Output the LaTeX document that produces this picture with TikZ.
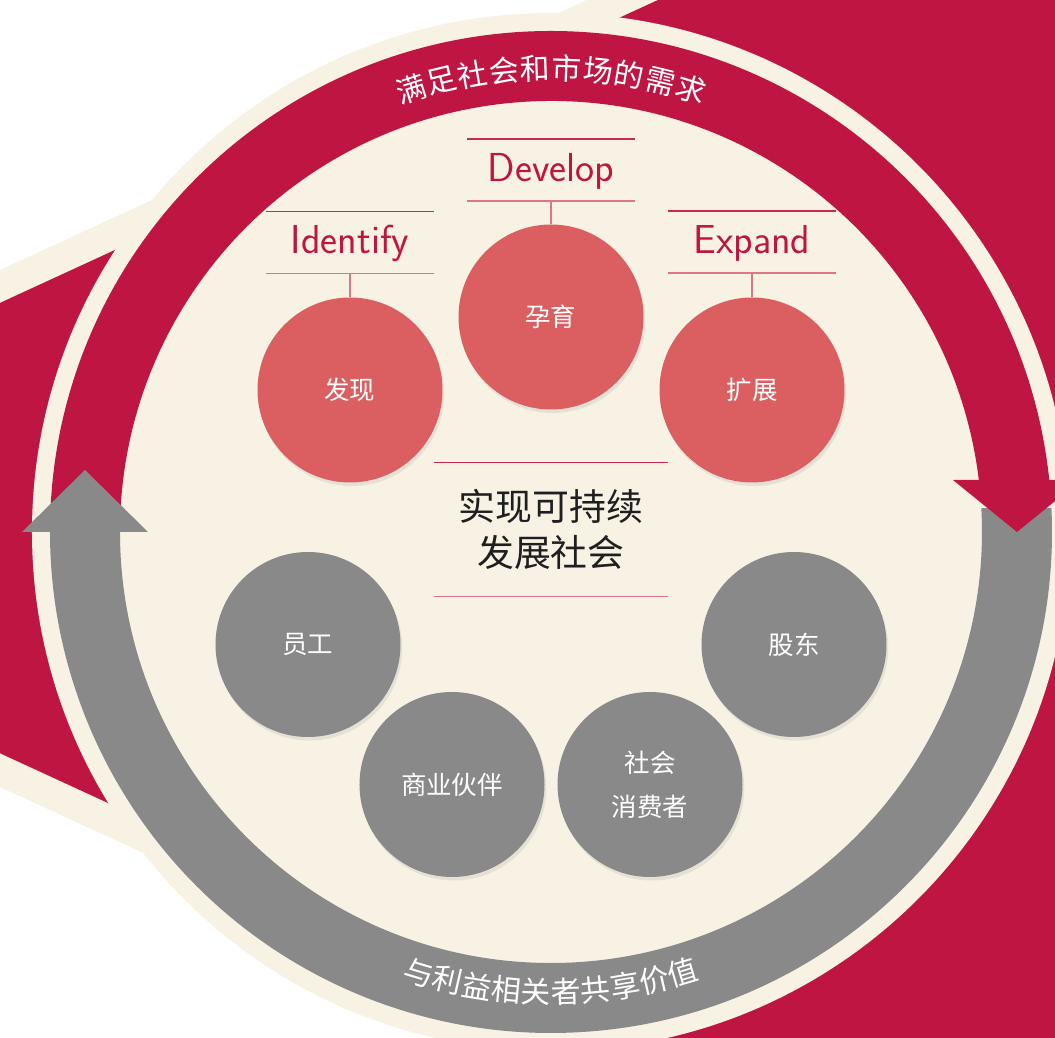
\documentclass[tikz,border=0pt]{standalone}
\usepackage{fontspec}
\newfontfamily\cjk{Noto Sans CJK SC}
\usetikzlibrary{shadows}
\definecolor{crimson}{HTML}{BF1542}
\definecolor{cream}{HTML}{F8F2E4}
\definecolor{ashgray}{HTML}{898989}
\definecolor{rose}{HTML}{DB5F60}
\definecolor{ruletop}{HTML}{C92A4C}
\definecolor{rulebot}{HTML}{DE7585}
\tikzset{
  redball/.style={circle, fill=rose, minimum size=3.7cm, inner sep=0, align=center,
    text=white, font=\cjk\fontsize{14.5}{25}\selectfont,
    drop shadow={shadow xshift=1pt, shadow yshift=-2pt, opacity=.15}},
  grayball/.style={redball, fill=ashgray},
  stage/.style={minimum width=3.34cm, minimum height=1.22cm, inner sep=0,
    text height=18pt, text depth=5pt, text=crimson, font=\sffamily\fontsize{23}{26}\selectfont},
  goal/.style={minimum width=4.66cm, minimum height=2.66cm, inner sep=0, align=center,
    text=black!88, font=\cjk\fontsize{21}{26}\selectfont},
  ringtext/.style={inner sep=0, text=white, font=\cjk\fontsize{17}{17}\selectfont},
  topline/.style={ruletop, line width=0.8pt},
  botline/.style={rulebot, line width=0.8pt}
}
\begin{document}
\begin{tikzpicture}
\useasboundingbox (-11.02,-10.12) rectangle (10.08,10.64);
\clip (-11.02,-10.12) rectangle (10.08,10.64);
% background wedge
\fill[cream] (-22.26,0.07) -- (14,16.75) -- (14,-16.61) -- cycle;
\fill[crimson] (-20.8,0.08) -- (14,16.1) -- (14,-15.95) -- cycle;
\fill[cream] (0,0) circle (10.38);
% rings and arrow heads
\fill[ashgray] (2.75:10.02) arc[start angle=2.75, end angle=-180, radius=10.02]
  -- (180:8.62) arc[start angle=-180, end angle=3.19, radius=8.62] -- cycle;
\fill[crimson] (180:10.02) arc[start angle=180, end angle=5.96, radius=10.02]
  -- (6.93:8.62) arc[start angle=6.93, end angle=180, radius=8.62] -- cycle;
\fill[crimson] (8.04,1.04) -- (10.6,1.04) -- (9.32,0) -- cycle;
\fill[ashgray] (-10.58,0) -- (-8.06,0) -- (-9.32,1.24) -- cycle;
\foreach \ch [count=\i from 0] in {满,足,社,会,和,市,场,的,需,求}
  \node[ringtext, rotate={(4.5-\i)*3.9}] at ({90+(4.5-\i)*3.9}:9.28) {\ch};
\foreach \ch [count=\i from 0] in {与,利,益,相,关,者,共,享,价,值}
  \node[ringtext, rotate={(\i-4.5)*3.7}] at ({-90+(\i-4.5)*3.7}:9.2) {\ch};
% centre
\node[goal] (goal) at (0,0.05) {实现可持续\\发展社会};
\draw[topline] (goal.north west) -- (goal.north east);
\draw[botline] (goal.south west) -- (goal.south east);
% stages
\node[stage] (lblfind) at (-4.02,5.79) {Identify};
\node[stage] (lblbreed) at (0,7.24) {Develop};
\node[stage] (lblgrow) at (4.02,5.8) {Expand};
\node[redball] (find) at (-4.02,2.84) {发现};
\node[redball] (breed) at (0,4.3) {孕育};
\node[redball] (grow) at (4.02,2.84) {扩展};
\foreach \n/\c in {lblfind/find, lblbreed/breed, lblgrow/grow} {
  \draw[topline] (\n.north west) -- (\n.north east);
  \draw[botline] (\n.south west) -- (\n.south east);
  \draw[botline] (\n.south) -- (\c.north);
}
% stakeholders
\node[grayball] (staff) at (-4.86,-2.25) {员工};
\node[grayball] (partner) at (-1.98,-5.05) {商业伙伴};
\node[grayball] (public) at (1.98,-5.05) {社会\\消费者};
\node[grayball] (holder) at (4.86,-2.25) {股东};
\end{tikzpicture}
\end{document}
